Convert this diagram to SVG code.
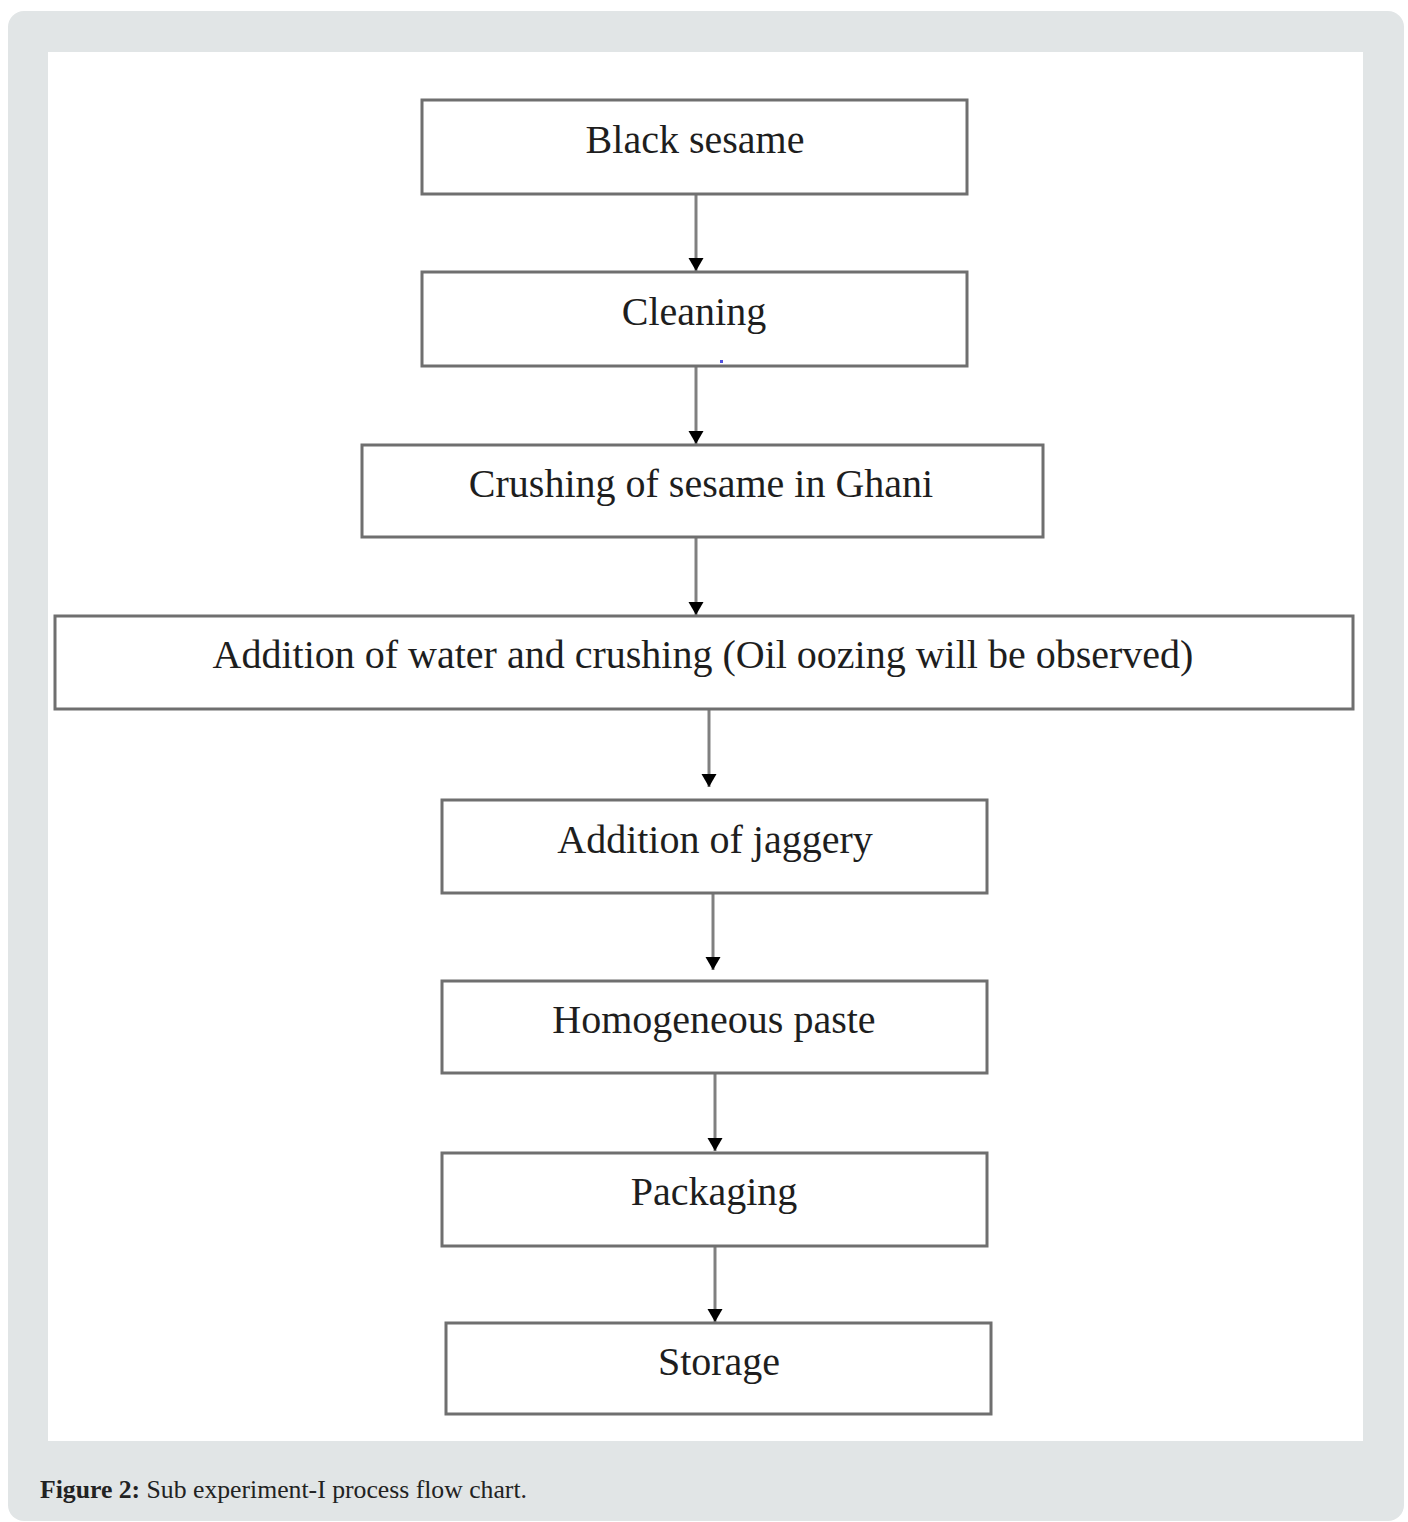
<svg xmlns="http://www.w3.org/2000/svg" width="1408" height="1522" viewBox="0 0 1408 1522">
<style>
.box{fill:#fff;stroke:#6f6f6f;stroke-width:3}
.lbl{font-family:"Liberation Serif","Times New Roman",serif;font-size:40px;fill:#1e1e1e;text-anchor:middle}
.con{stroke:#808080;stroke-width:3;fill:none}
.cap{font-family:"Liberation Serif","Times New Roman",serif;font-size:25px;fill:#222}
</style>
<defs>
<marker id="ah" markerUnits="userSpaceOnUse" markerWidth="14" markerHeight="16" refX="13" refY="8" orient="auto">
<path d="M0,0.5 L13,8 L0,15.5 Z" fill="#000"/>
</marker>
</defs>
<rect x="8" y="11" width="1396" height="1510" rx="16" fill="#e1e5e6"/>
<rect x="48" y="52" width="1315" height="1389" fill="#fff"/>
<g id="connectors">
<line class="con" x1="696" y1="194" x2="696" y2="271" marker-end="url(#ah)"/>
<line class="con" x1="696" y1="366" x2="696" y2="444" marker-end="url(#ah)"/>
<line class="con" x1="696" y1="537" x2="696" y2="615" marker-end="url(#ah)"/>
<line class="con" x1="709" y1="709" x2="709" y2="787" marker-end="url(#ah)"/>
<line class="con" x1="713" y1="893" x2="713" y2="970" marker-end="url(#ah)"/>
<line class="con" x1="715" y1="1073" x2="715" y2="1151" marker-end="url(#ah)"/>
<line class="con" x1="715" y1="1246" x2="715" y2="1322" marker-end="url(#ah)"/>
</g>
<g id="n1"><rect class="box" x="422" y="100" width="545" height="94"/><text class="lbl" x="695" y="153">Black sesame</text></g>
<g id="n2"><rect class="box" x="422" y="272" width="545" height="94"/><text class="lbl" x="694" y="325">Cleaning</text><rect x="720" y="360" width="3" height="3" fill="#5050e0"/></g>
<g id="n3"><rect class="box" x="362" y="445" width="681" height="92"/><text class="lbl" x="701" y="497">Crushing of sesame in Ghani</text></g>
<g id="n4"><rect class="box" x="55" y="616" width="1298" height="93"/><text class="lbl" x="703" y="668">Addition of water and crushing (Oil oozing will be observed)</text></g>
<g id="n5"><rect class="box" x="442" y="800" width="545" height="93"/><text class="lbl" x="715" y="853">Addition of jaggery</text></g>
<g id="n6"><rect class="box" x="442" y="981" width="545" height="92"/><text class="lbl" x="714" y="1033">Homogeneous paste</text></g>
<g id="n7"><rect class="box" x="442" y="1153" width="545" height="93"/><text class="lbl" x="714" y="1205">Packaging</text></g>
<g id="n8"><rect class="box" x="446" y="1323" width="545" height="91"/><text class="lbl" x="719" y="1375">Storage</text></g>
<text class="cap" x="40" y="1498" textLength="487" lengthAdjust="spacingAndGlyphs"><tspan font-weight="bold">Figure 2:</tspan> Sub experiment-I process flow chart.</text>
</svg>
